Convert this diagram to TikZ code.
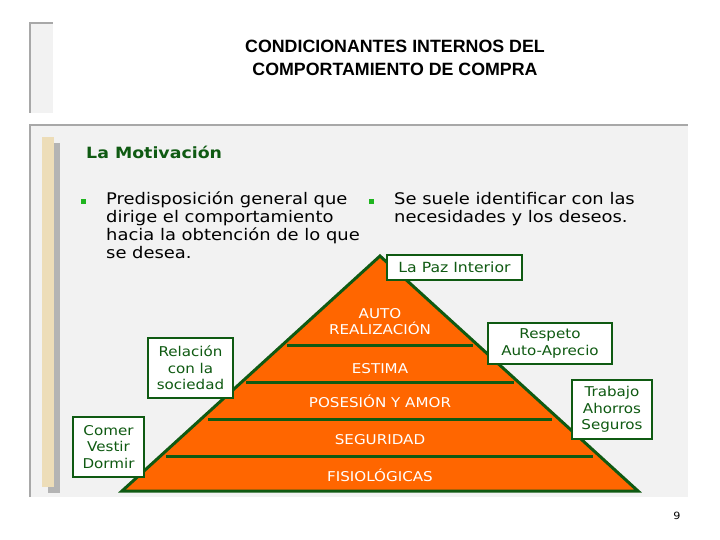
\documentclass[tikz,border=0pt]{standalone}
\usepackage{fontspec}
\setmainfont[FakeStretch=1.12]{DejaVu Sans}
\newfontfamily\titlefont{Liberation Sans}
\usetikzlibrary{positioning}
\definecolor{panelgray}{HTML}{F2F2F2}
\definecolor{edgegray}{HTML}{A8A8A8}
\definecolor{shadegray}{HTML}{B4B4B4}
\definecolor{sandbar}{HTML}{EDDDB8}
\definecolor{leafgreen}{HTML}{0F5A12}
\definecolor{bulletgreen}{HTML}{1FB51F}
\definecolor{pyrorange}{HTML}{FF6600}

\begin{document}
\begin{tikzpicture}[x=1pt, y=-1pt, every node/.style={inner sep=0pt},
  bodytext/.style={font=\fontsize{16}{17.7}\selectfont, align=left, anchor=base west},
  layertext/.style={font=\fontsize{13.5}{16}\selectfont, text=white, align=center, anchor=base},
  tagbox/.style={draw=leafgreen, line width=1.8pt, fill=white, text=leafgreen, align=center,
    font=\fontsize{13.5}{16.5}\selectfont}]
  \useasboundingbox (0,0) rectangle (720,540);
  % panels
  \fill[panelgray] (30,23) rectangle (53,113);
  \draw[edgegray, line width=2pt] (30,113) -- (30,23) -- (53,23);
  \fill[panelgray] (30,125) rectangle (688,497);
  \draw[edgegray, line width=2.5pt] (30,497) -- (30,125) -- (688,125);
  \fill[shadegray] (48,143) rectangle (60,493);
  \fill[sandbar] (42,137) rectangle (54,487);

  % title (base = last line)
  \node[font=\titlefont\bfseries\fontsize{17.8}{23}\selectfont, align=center, anchor=base] (title)
    at (395,76) {CONDICIONANTES INTERNOS DEL\\COMPORTAMIENTO DE COMPRA};

  \node[font=\bfseries\fontsize{15.5}{20}\selectfont, text=leafgreen, anchor=base west] (motiv)
    at (86,159) {La Motivación};

  \fill[bulletgreen] (81,199) rectangle (86,204.5);
  \node[bodytext] (def) at (106,258.1)
    {Predisposición general que\\dirige el comportamiento\\hacia la obtención de lo que\\se desea.};
  \fill[bulletgreen] (368.5,199) rectangle (373.5,204.5);
  \node[bodytext] (needs) at (394,222.7)
    {Se suele identificar con las\\necesidades y los deseos.};

  % pyramid
  \draw[fill=pyrorange, draw=leafgreen, line width=3pt, line join=miter]
    (380,256) -- (638,491) -- (122,491) -- cycle;
  \foreach \y/\a/\b in {345/287/473, 382/246/514, 419/208/552, 456/166/593}
  {
    \draw[leafgreen, line width=3pt] (\a,\y) -- (\b,\y);
  }
  \node[layertext] (auto) at (380,334) {AUTO\\REALIZACIÓN};
  \node[layertext] (estima) at (380,373) {ESTIMA};
  \node[layertext] (posesion) at (380,407) {POSESIÓN Y AMOR};
  \node[layertext] (seguridad) at (380,444) {SEGURIDAD};
  \node[layertext] (fisio) at (380,481) {FISIOLÓGICAS};

  % side boxes
  \node[tagbox, font=\fontsize{14}{16}\selectfont, minimum width=135pt, minimum height=25pt] (paz)
    at (454.5,267.5) {La Paz Interior};
  \node[tagbox, minimum width=124pt, minimum height=41pt] (respeto) at (550,343.5) {Respeto\\Auto-Aprecio};
  \node[tagbox, minimum width=80pt, minimum height=59pt] (trabajo) at (612,409.5) {Trabajo\\Ahorros\\Seguros};
  \node[tagbox, minimum width=85pt, minimum height=60pt] (relacion) at (190.5,368) {Relación\\con la\\sociedad};
  \node[tagbox, minimum width=71pt, minimum height=60pt] (comer) at (108.5,447) {Comer\\Vestir\\Dormir};

  \node[font=\fontsize{10}{12}\selectfont, anchor=base] (page) at (677,519) {9};
\end{tikzpicture}
\end{document}
